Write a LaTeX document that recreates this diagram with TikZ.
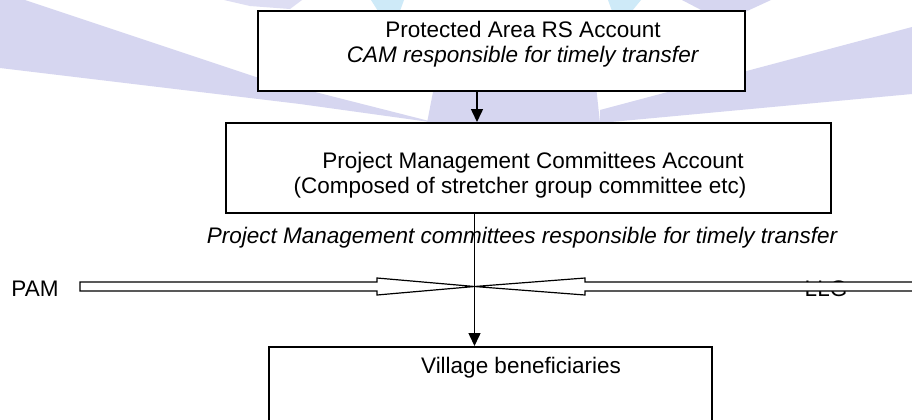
\documentclass[tikz,border=0pt]{standalone}
\usepackage{fontspec}
\setmainfont{Liberation Sans}
\usetikzlibrary{arrows.meta}
\definecolor{wmlav}{RGB}{214,214,240}
\definecolor{wmcyan}{RGB}{206,234,248}

\begin{document}
\begin{tikzpicture}[x=0.5pt, y=-0.5pt,
  box/.style={draw, line width=1pt, fill=white, inner sep=0pt},
  txt/.style={align=center, font=\fontsize{11.25}{12.5}\selectfont, inner sep=0pt},
  flow/.style={-{Triangle[length=6.5pt, width=6pt]}, line width=0.75pt},
  hollow/.style={draw, fill=white, line width=0.6pt, line join=miter}]
  % 範囲
  \useasboundingbox (0,0) rectangle (912,419);
  \clip (0,0) rectangle (912,419);
  \fill[white] (0,0) rectangle (912,419);

  % 背景の透かし
  \fill[wmlav] (0,0) -- (25,0) -- (256,77) -- (437,123) -- (300,104) -- (0,68) -- cycle;
  \fill[wmlav] (445,30) -- (590,30) -- (600,123) -- (427,123) -- cycle;
  \fill[wmlav] (912,27) -- (912,94) -- (600,123) -- (600,110) -- cycle;
  \fill[wmlav] (682,0) -- (771,0) -- (745,12) -- (705,12) -- cycle;
  \fill[wmlav!80] (224,0) -- (302,0) -- (290,9) -- (250,6) -- cycle;
  \fill[wmcyan] (371,0) -- (404,0) -- (400,11) -- (378,11) -- cycle;
  \fill[wmcyan] (608,0) -- (641,0) -- (632,11) -- (612,11) -- cycle;

  % ボックス
  \node[box, minimum width=243.5pt, minimum height=40pt] (ras) at (501,51) {};
  \node[txt] (rastxt) at (523,44) {Protected Area RS Account\\\textit{CAM responsible for timely transfer}};

  \node[box, minimum width=302.5pt, minimum height=45pt] (pmc) at (528.5,168) {};
  \node[txt] (pmctxt) at (520,175) {\hspace*{13pt}Project Management Committees Account\\(Composed of stretcher group committee etc)};

  \node[box, minimum width=221.5pt, minimum height=46.5pt] (vb) at (490.5,393.5) {};
  \node[txt] (vbtxt) at (521,368) {Village beneficiaries};

  % ラベル
  \node[txt, font=\fontsize{11.25}{12.5}\selectfont\itshape] (resp) at (522,238) {Project Management committees responsible for timely transfer};
  \node[txt] (pam) at (35,289) {PAM};
  \node[txt] (llg) at (826,289) {LLG};

  % 交差点
  \coordinate (cross) at (474.5,286.5);

  % 白抜き矢印
  \draw[hollow, shift={(cross)}] (-394.5,-4.5) -- (-97.5,-4.5) -- (-97.5,-8.5) -- (0,0)
    -- (-97.5,8.5) -- (-97.5,4.5) -- (-394.5,4.5) -- cycle;
  \draw[hollow, shift={(cross)}] (460,-4.5) -- (110.5,-4.5) -- (110.5,-8.5) -- (0,0)
    -- (110.5,8.5) -- (110.5,4.5) -- (460,4.5) -- cycle;

  % 矢印
  \draw[flow] ([xshift=-12pt]ras.south) -- ([xshift=-12pt]ras.south |- pmc.north);
  \draw[flow] ([xshift=-27pt]pmc.south) -- ([xshift=-27pt]pmc.south |- vb.north);
\end{tikzpicture}
\end{document}
